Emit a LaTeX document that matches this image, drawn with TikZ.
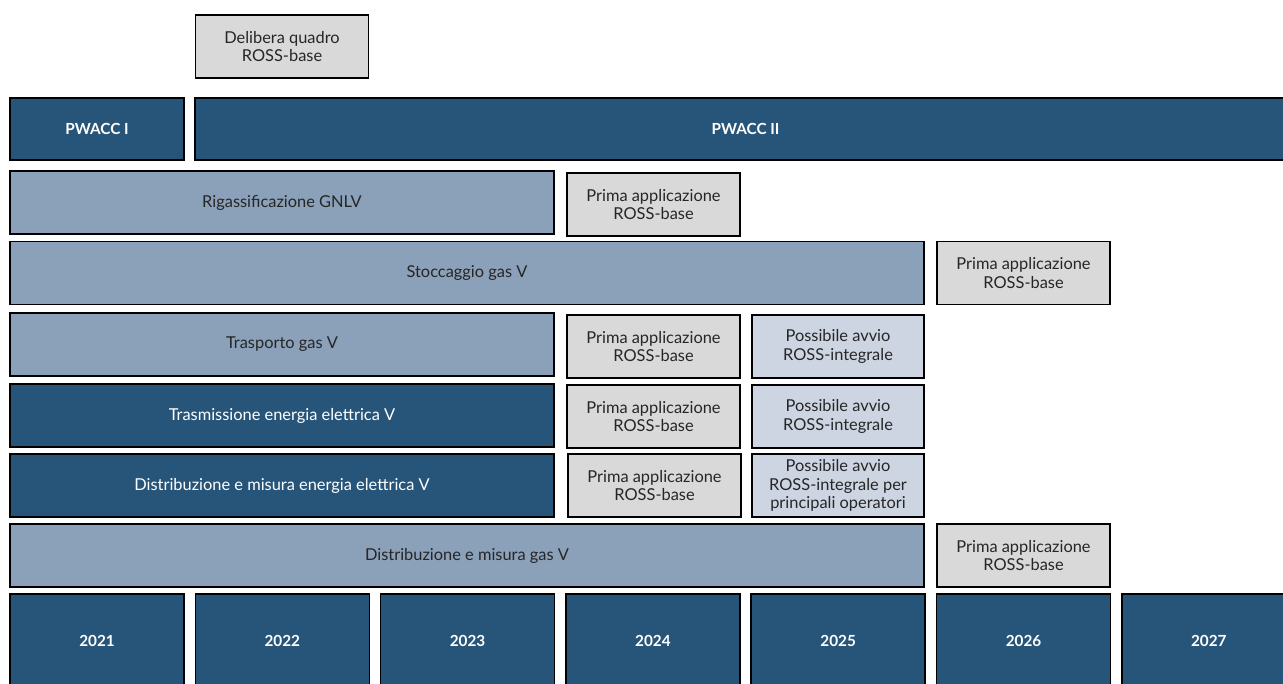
\documentclass[tikz,border=0pt]{standalone}
\usepackage{fontspec}
\setmainfont{Lato}
\usepackage{tikz}
\definecolor{darkblu}{HTML}{27557A}
\definecolor{midblu}{HTML}{8BA0B9}
\definecolor{lightgr}{HTML}{D9D9D9}
\definecolor{lightblu}{HTML}{CDD5E3}
\tikzset{
	box/.style={draw=black, line width=1.5pt, inner sep=2pt, align=center, minimum height=63pt, font=\fontsize{16.4}{18.4}\selectfont},
	darkbox/.style={box, fill=darkblu, text=white, font=\fontsize{15.3}{18}\selectfont\bfseries},
	phasebox/.style={box, fill=darkblu, text=white},
	midbox/.style={box, fill=midblu, text=black!85},
	greybox/.style={box, fill=lightgr, text=black!85, minimum width=173pt},
	bluebox/.style={box, fill=lightblu, text=black!85, minimum width=172pt},
}
\begin{document}
\begin{tikzpicture}[x=1pt, y=-1pt]
		%%%%% START %%%%%
		\useasboundingbox (0, 0) rectangle (1283, 684);
		\clip (0, 0) rectangle (1283, 684);
		
		\node[greybox] (delibera) at (282, 46.5) {Delibera quadro\\ROSS-base};
		
		\node[darkbox, minimum width=174pt, minimum height=62pt] (pwacc1) at (97, 129) {PWACC I};
		\node[darkbox, minimum width=1101pt, minimum height=62pt] (pwacc2) at (745.5, 129) {PWACC II};
		
		% settori
		\node[midbox, minimum width=544pt] (rigas) at (282, 202.5) {Rigassificazione GNLV};
		\node[greybox] (rigas-a) at (653.5, 204.5) {Prima applicazione\\ROSS-base};
		
		\node[midbox, minimum width=914pt] (stocc) at (467, 273) {Stoccaggio gas V};
		\node[greybox] (stocc-a) at (1023.5, 273) {Prima applicazione\\ROSS-base};
		
		\node[midbox, minimum width=544pt] (trasp) at (282, 344.5) {Trasporto gas V};
		\node[greybox] (trasp-a) at (653.5, 346.5) {Prima applicazione\\ROSS-base};
		\node[bluebox] (trasp-b) at (838, 346.5) {Possibile avvio\\ROSS-integrale};
		
		\node[phasebox, minimum width=544pt] (trasm) at (282, 415.5) {Trasmissione energia elettrica V};
		\node[greybox] (trasm-a) at (653.5, 416.5) {Prima applicazione\\ROSS-base};
		\node[bluebox] (trasm-b) at (838, 416.5) {Possibile avvio\\ROSS-integrale};
		
		\node[phasebox, minimum width=544pt] (distel) at (282, 485.5) {Distribuzione e misura energia elettrica V};
		\node[greybox] (distel-a) at (654.5, 485.5) {Prima applicazione\\ROSS-base};
		\node[bluebox] (distel-b) at (838, 485.5) {Possibile avvio\\ROSS-integrale per\\principali operatori};
		
		\node[midbox, minimum width=914pt] (distgas) at (467, 555.5) {Distribuzione e misura gas V};
		\node[greybox] (distgas-a) at (1023.5, 555.5) {Prima applicazione\\ROSS-base};
		
		% anni
		\foreach \yr [count=\i from 0] in {2021,2022,2023,2024,2025,2026,2027}
			\node[darkbox, minimum width=174pt, minimum height=94pt] (y\yr) at (97 + 185.3*\i, 641) {\yr};
		
		%%%%% END %%%%%
	\end{tikzpicture}
\end{document}
